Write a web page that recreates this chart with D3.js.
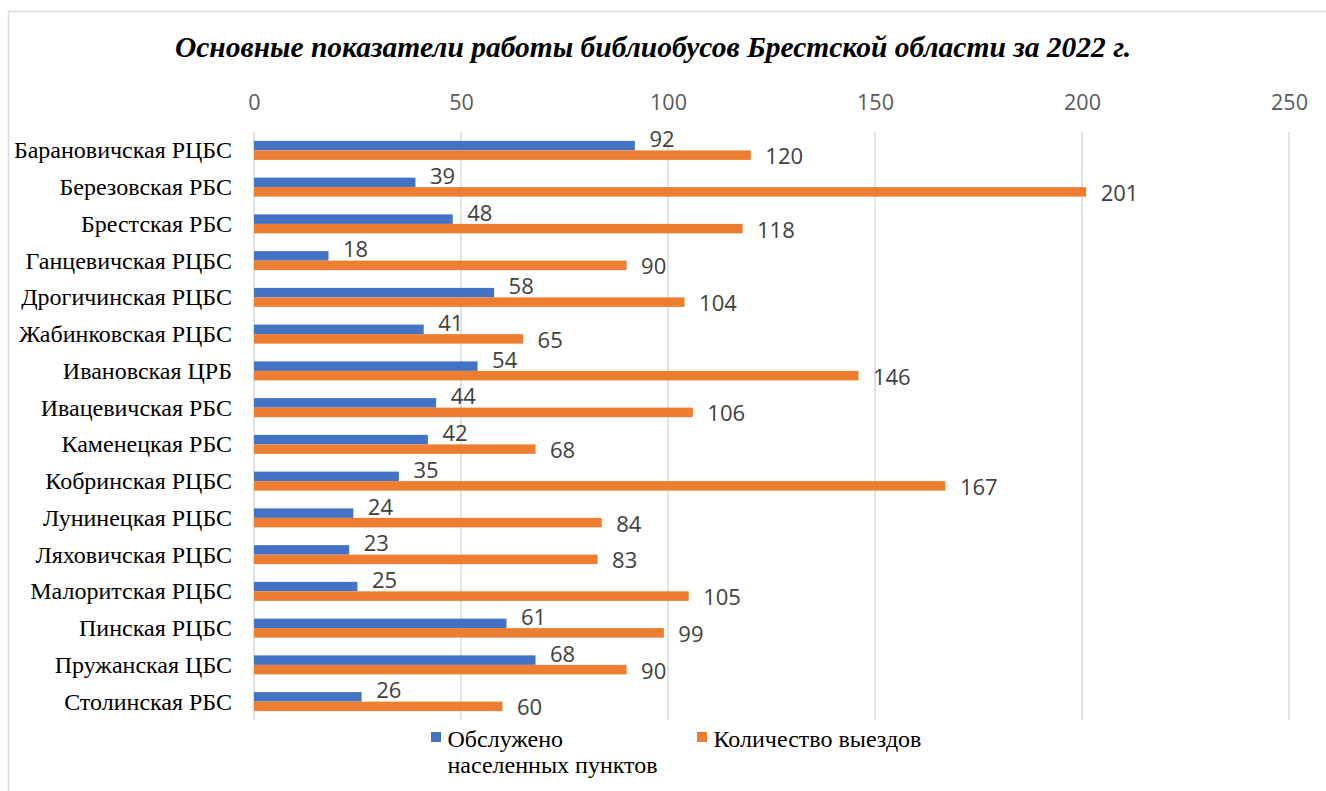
<!DOCTYPE html>
<html>
<head>
<meta charset="utf-8">
<script src="https://cdn.jsdelivr.net/npm/d3@7"></script>
</head>
<body style="margin:0">
<svg id="chart" width="1326" height="791" style="display:block"></svg>
<script>
const chartTitle = "Основные показатели работы библиобусов Брестской области за 2022 г.";
const categories = [
  "Барановичская РЦБС", "Березовская РБС", "Брестская РБС", "Ганцевичская РЦБС",
  "Дрогичинская РЦБС", "Жабинковская РЦБС", "Ивановская ЦРБ", "Ивацевичская РБС",
  "Каменецкая РБС", "Кобринская РЦБС", "Лунинецкая РЦБС", "Ляховичская РЦБС",
  "Малоритская РЦБС", "Пинская РЦБС", "Пружанская ЦБС", "Столинская РБС"
];
const seriesNames = ["Обслужено населенных пунктов", "Количество выездов"];
const served = [92, 39, 48, 18, 58, 41, 54, 44, 42, 35, 24, 23, 25, 61, 68, 26];
const trips = [120, 201, 118, 90, 104, 65, 146, 106, 68, 167, 84, 83, 105, 99, 90, 60];
const tickValues = [0, 50, 100, 150, 200, 250];
const colors = ["#4472C4", "#ED7D31"];

const SERIF = '"Liberation Serif"';
const SANS = '"Open Sans"';

const svg = d3.select("#chart");

// chart frame
svg.append("path")
  .attr("d", "M8.5,791 L8.5,11.5 L1326,11.5")
  .attr("fill", "none").attr("stroke", "#d9d9d9").attr("stroke-width", 1.5);

// title
svg.append("text")
  .attr("x", 653).attr("y", 57)
  .attr("text-anchor", "middle")
  .style("font-family", SERIF)
  .style("font-size", "29.5px").style("font-weight", "bold").style("font-style", "italic")
  .attr("fill", "#000")
  .text(chartTitle);

const x = d3.scaleLinear().domain([0, 250]).range([254, 1289]);
const pi = 0.483;
const y0 = d3.scaleBand().domain(categories).range([132, 720]).paddingInner(pi).paddingOuter(pi / 2);
const y1 = d3.scaleBand().domain([0, 1]).range([0, y0.bandwidth()]);

// gridlines
svg.append("g").selectAll("line").data(tickValues).join("line")
  .attr("x1", d => x(d)).attr("x2", d => x(d))
  .attr("y1", 132).attr("y2", 720)
  .attr("stroke", "#d9d9d9").attr("stroke-width", 1.5);

// top axis
const axis = svg.append("g").attr("transform", "translate(0,110)")
  .call(d3.axisTop(x).tickValues(tickValues).tickSize(0).tickPadding(0).tickFormat(d3.format("d")));
axis.select(".domain").remove();
axis.attr("font-family", null).attr("font-size", null);
axis.selectAll("text")
  .style("font-family", SANS)
  .style("font-size", "21.5px").attr("fill", "#595959");

// category labels
svg.append("g").selectAll("text").data(categories).join("text")
  .attr("x", 232)
  .attr("y", d => y0(d) + y0.bandwidth() / 2)
  .attr("dy", "0.33em")
  .attr("text-anchor", "end")
  .style("font-family", SERIF)
  .style("font-size", "24px").attr("fill", "#000")
  .text(d => d);

const rows = categories.map((c, i) => ({ c, vals: [served[i], trips[i]] }));

const g = svg.append("g").selectAll("g").data(rows).join("g")
  .attr("transform", d => `translate(0,${y0(d.c)})`);

g.selectAll("rect").data(d => d.vals.map((v, k) => ({ v, k }))).join("rect")
  .attr("x", x(0))
  .attr("y", d => y1(d.k))
  .attr("width", d => x(d.v) - x(0))
  .attr("height", y1.bandwidth())
  .attr("fill", d => colors[d.k]);

g.selectAll("text").data(d => d.vals.map((v, k) => ({ v, k }))).join("text")
  .attr("x", d => x(d.v) + 14.5)
  .attr("y", d => y1(d.k) + y1.bandwidth() / 2 + (d.k === 0 ? -6.5 : 1))
  .attr("dy", "0.36em")
  .style("font-family", SANS)
  .style("font-size", "22px").attr("fill", "#404040")
  .text(d => d.v);

// legend
const legend = svg.append("g");
const legendItems = [
  { x: 431, lines: ["Обслужено", "населенных пунктов"] },
  { x: 697, lines: ["Количество выездов"] }
];
legendItems.forEach((it, k) => {
  legend.append("rect").attr("x", it.x).attr("y", 732).attr("width", 10).attr("height", 10).attr("fill", colors[k]);
  const t = legend.append("text")
    .style("font-family", SERIF)
    .style("font-size", "24px").attr("fill", "#000");
  it.lines.forEach((ln, j) => {
    t.append("tspan").attr("x", it.x + 16.5).attr("y", 746.5 + j * 26.7).text(ln);
  });
});
</script>
</body>
</html>
